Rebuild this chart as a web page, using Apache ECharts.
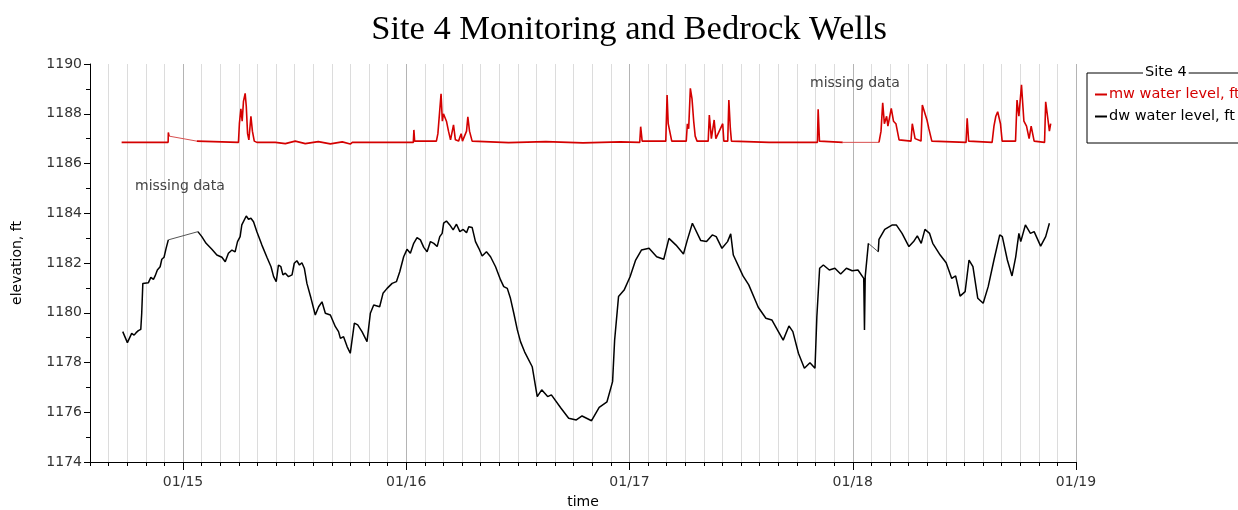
<!DOCTYPE html>
<html><head><meta charset="utf-8">
<script src="https://cdn.jsdelivr.net/npm/echarts@6/dist/echarts.min.js"></script>
<style>html,body{margin:0;padding:0;background:#fff}#c{width:1238px;height:510px}</style>
</head><body><div id="c"></div>
<script>
// x values are months counted from January 2014 (12 = 01/15, 24 = 01/16, ...)
const xTickMonths = [12, 24, 36, 48, 60];
const xTickLabels = ['01/15', '01/16', '01/17', '01/18', '01/19'];
const yTickValues = [1174, 1176, 1178, 1180, 1182, 1184, 1186, 1188, 1190];

const dwMonths = [8.76,9.01,9.24,9.37,9.48,9.60,9.73,9.78,9.84,10.14,
10.27,10.41,10.50,10.62,10.77,10.86,10.98,11.09,11.21,12.80,
13.01,13.24,13.55,13.82,14.09,14.27,14.44,14.63,14.80,14.93,
15.07,15.16,15.40,15.52,15.65,15.79,15.97,16.24,16.51,16.73,
16.87,17.01,17.13,17.26,17.37,17.50,17.67,17.86,17.98,18.12,
18.26,18.39,18.52,18.66,18.88,19.11,19.29,19.47,19.65,19.92,
20.19,20.36,20.46,20.63,20.82,20.99,21.21,21.39,21.62,21.89,
22.07,22.25,22.57,22.75,22.97,23.24,23.47,23.65,23.86,24.04,
24.22,24.40,24.58,24.76,24.94,25.12,25.30,25.48,25.66,25.80,
25.93,26.01,26.16,26.34,26.52,26.70,26.88,27.06,27.24,27.36,
27.54,27.72,27.90,28.08,28.31,28.53,28.80,29.07,29.24,29.43,
29.60,29.78,29.97,30.14,
30.36,30.77,31.04,31.28,31.60,31.80,32.32,32.73,33.14,33.45,
33.96,34.37,34.79,35.09,35.20,35.41,35.71,36.03,36.33,36.64,
37.05,37.46,37.84,38.12,38.50,38.90,39.11,39.38,39.83,40.14,
40.45,40.66,40.97,41.27,41.44,41.58,42.10,42.41,42.92,43.33,
43.65,43.95,44.26,44.57,44.78,45.08,45.40,45.70,45.97,46.07,
46.22,46.42,46.74,47.04,47.35,47.66,47.97,48.28,48.59,48.63,
48.67,48.84,49.37,49.41,49.72,50.13,50.34,50.65,51.02,51.27,
51.47,51.68,51.88,52.13,52.30,52.70,53.02,53.32,53.53,53.77,
54.04,54.25,54.46,54.72,55.01,55.28,55.59,55.90,56.04,56.31,
56.56,56.76,56.93,57.03,57.28,57.55,57.75,58.10,58.37,58.57];
const dwLevel = [1179.24,1178.80,1179.17,1179.10,1179.20,1179.28,1179.33,1179.98,1181.18,1181.21,
1181.42,1181.34,1181.48,1181.72,1181.85,1182.15,1182.23,1182.59,1182.93,1183.26,
1183.06,1182.79,1182.55,1182.32,1182.23,1182.05,1182.39,1182.52,1182.45,1182.86,
1183.06,1183.53,1183.89,1183.76,1183.80,1183.66,1183.26,1182.72,1182.23,1181.85,
1181.45,1181.25,1181.92,1181.85,1181.52,1181.59,1181.45,1181.52,1181.99,1182.09,
1181.92,1182.01,1181.79,1181.18,1180.58,1179.91,1180.24,1180.44,1179.98,1179.91,
1179.44,1179.24,1178.97,1179.04,1178.64,1178.37,1179.58,1179.51,1179.24,1178.84,
1179.98,1180.31,1180.24,1180.78,1180.98,1181.18,1181.25,1181.65,1182.25,1182.55,
1182.39,1182.79,1183.02,1182.93,1182.63,1182.45,1182.86,1182.79,1182.66,1183.06,
1183.19,1183.60,1183.69,1183.53,1183.33,1183.56,1183.26,1183.35,1183.22,1183.46,
1183.43,1182.86,1182.59,1182.28,1182.45,1182.25,1181.85,1181.32,1181.05,1180.98,
1180.58,1179.98,1179.31,1178.84,
1178.43,1177.83,1176.63,1176.90,1176.63,1176.70,1176.16,1175.76,1175.69,1175.85,
1175.66,1176.20,1176.42,1177.23,1178.90,1180.65,1180.91,1181.45,1182.12,1182.52,
1182.59,1182.25,1182.15,1182.99,1182.72,1182.36,1182.93,1183.60,1182.90,1182.86,
1183.13,1183.06,1182.59,1182.86,1183.17,1182.32,1181.48,1181.12,1180.22,1179.78,
1179.71,1179.31,1178.90,1179.47,1179.24,1178.37,1177.77,1177.99,1177.77,1179.84,
1181.79,1181.92,1181.72,1181.79,1181.56,1181.79,1181.69,1181.72,1181.38,1179.31,
1181.45,1182.79,1182.45,1182.95,1183.35,1183.53,1183.53,1183.19,1182.66,1182.86,
1183.09,1182.79,1183.35,1183.19,1182.79,1182.32,1182.01,1181.38,1181.48,1180.67,
1180.85,1182.12,1181.85,1180.58,1180.38,1181.05,1182.12,1183.13,1183.06,1182.12,
1181.48,1182.25,1183.19,1182.86,1183.53,1183.19,1183.26,1182.68,1183.06,1183.60];

const mwMonths = [8.70,11.20,11.21,11.25,12.74,14.98,15.03,15.11,15.18,15.25,
15.34,15.40,15.47,15.54,15.65,15.73,15.83,15.97,16.96,17.50,
18.03,18.57,19.27,19.92,20.56,20.99,21.10,24.38,24.41,24.45,
25.62,25.70,25.87,25.94,26.00,26.16,26.27,26.38,26.54,26.64,
26.81,26.95,27.02,27.24,27.31,27.40,27.54,29.50,31.50,33.50,
35.50,36.55,36.60,36.68,37.95,38.02,38.08,38.27,39.05,39.11,
39.18,39.27,39.36,39.45,39.53,39.63,40.23,40.29,40.40,40.55,
40.64,41.01,41.07,41.28,41.34,41.42,41.48,43.50,46.10,46.14,
46.21,47.46,49.41,49.52,49.61,49.70,49.82,49.89,50.07,50.19,
50.32,50.49,51.13,51.20,51.35,51.67,51.74,51.99,52.09,52.25,
54.09,54.15,54.23,55.49,55.59,55.69,55.79,55.94,56.03,56.75,
56.83,56.93,57.07,57.20,57.34,57.48,57.59,57.75,58.31,58.37,
58.47,58.57,58.64];
const mwLevel = [1186.85,1186.85,1187.25,1187.10,1186.90,1186.85,1187.60,1188.20,1187.70,1188.50,
1188.82,1188.30,1187.20,1186.95,1187.90,1187.30,1186.90,1186.85,1186.85,1186.80,
1186.90,1186.80,1186.88,1186.79,1186.87,1186.78,1186.85,1186.85,1187.35,1186.90,
1186.90,1187.20,1188.80,1187.70,1188.00,1187.70,1187.30,1186.95,1187.55,1186.95,
1186.90,1187.20,1186.90,1187.30,1187.88,1187.30,1186.90,1186.84,1186.88,1186.83,
1186.87,1186.85,1187.48,1186.90,1186.90,1188.75,1187.60,1186.90,1186.90,1187.60,
1187.40,1189.02,1188.60,1187.70,1187.10,1186.90,1186.90,1187.95,1187.00,1187.75,
1187.00,1187.60,1186.90,1186.90,1188.55,1187.40,1186.90,1186.85,1186.85,1188.18,
1186.90,1186.85,1186.85,1187.30,1188.44,1187.60,1187.90,1187.50,1188.22,1187.70,
1187.60,1186.95,1186.90,1187.60,1187.00,1186.90,1188.35,1187.75,1187.40,1186.90,
1186.85,1187.82,1186.90,1186.85,1187.50,1187.90,1188.08,1187.60,1186.90,1186.90,
1188.55,1187.90,1189.16,1187.70,1187.50,1187.00,1187.50,1186.90,1186.85,1188.48,
1187.90,1187.30,1187.60];

// stretches with no readings (drawn as thin joining lines): [from month, to month]
const dwGaps = [[11.21, 12.80], [48.84, 49.37]];
const mwGaps = [[11.25, 12.74], [47.46, 49.41]];

const missingNotes = ['missing data', 'missing data'];

const xMin = 7, xMax = 60, yMin = 1174, yMax = 1190;
const sans = 'DejaVu Sans, Verdana, sans-serif';

// monthly split lines; January lines darker (split lines start at Sep 2014)
const monthColors = [];
for (let i = 0; i < 12; i++) monthColors.push(i === 4 ? '#b4b4b4' : '#dcdcdc');

function solidData(months, levels, gaps) {
  const out = [];
  months.forEach((m, i) => {
    out.push([m, levels[i]]);
    if (gaps.some(g => g[0] === m)) out.push([m, null]);
  });
  return out;
}
function gapData(months, levels, gaps) {
  const out = [];
  gaps.forEach(g => {
    const a = months.indexOf(g[0]), b = months.indexOf(g[1]);
    out.push([g[0], levels[a]], [g[1], levels[b]], [g[1], null]);
  });
  return out;
}

const chart = echarts.init(document.getElementById('c'), null, {renderer: 'canvas'});
chart.setOption({
  animation: false,
  backgroundColor: '#fff',
  title: {
    text: 'Site 4 Monitoring and Bedrock Wells',
    left: 624, top: 7, textAlign: 'center',
    textStyle: {fontFamily: 'Liberation Serif, serif', fontSize: 34.5, fontWeight: 'normal', color: '#000'}
  },
  legend: {
    orient: 'vertical', left: 1087, top: 73,
    padding: [14, 60, 19, 8], itemGap: 7, itemWidth: 12, itemHeight: 2, icon: 'rect',
    borderColor: '#000', borderWidth: 1, backgroundColor: '#fff',
    textStyle: {fontFamily: sans, fontSize: 14.5, color: '#000', padding: [0, 0, 0, -3]},
    data: [{name: 'mw water level, ft', textStyle: {color: '#d40000'}}, {name: 'dw water level, ft'}]
  },
  graphic: [
    {type: 'text', left: 1143, top: 65, z: 100,
     style: {text: 'Site 4', font: '14.5px ' + sans, fill: '#000', backgroundColor: '#fff', padding: [0, 2]}},
    {type: 'text', left: 135, top: 179, z: 100,
     style: {text: missingNotes[0], font: '14px ' + sans, fill: '#444'}},
    {type: 'text', left: 810, top: 76, z: 100,
     style: {text: missingNotes[1], font: '14px ' + sans, fill: '#444'}}
  ],
  grid: {left: 90, right: 162, top: 64, bottom: 48, containLabel: false, outerBoundsMode: 'none'},
  xAxis: [{
    type: 'value', min: xMin, max: xMax, interval: 1,
    name: 'time', nameLocation: 'middle', nameGap: 33,
    nameTextStyle: {fontFamily: sans, fontSize: 14, color: '#000'},
    axisLine: {show: true, lineStyle: {color: '#000', width: 1}},
    axisTick: {show: true, length: 4, lineStyle: {color: '#000'}},
    axisLabel: {
      fontFamily: sans, fontSize: 14, color: '#333', margin: 13, showMinLabel: true, showMaxLabel: true,
      formatter: v => { const k = xTickMonths.indexOf(Math.round(v)); return k >= 0 ? xTickLabels[k] : ''; }
    },
    splitLine: {show: true, showMinLine: false, lineStyle: {color: monthColors, width: 1}}
  }, {
    type: 'value', gridIndex: 0, position: 'bottom', min: xMin, max: xMax, interval: 1,
    axisLine: {show: false},
    axisTick: {show: true, length: 8, customValues: xTickMonths, lineStyle: {color: '#000'}},
    axisLabel: {show: false},
    splitLine: {show: false}
  }],
  yAxis: {
    type: 'value', min: yMin, max: yMax, interval: 2,
    name: 'elevation, ft', nameLocation: 'middle', nameGap: 66, nameRotate: 90,
    nameTextStyle: {fontFamily: sans, fontSize: 14, color: '#000'},
    axisLine: {show: true, lineStyle: {color: '#000', width: 1}},
    axisTick: {show: true, length: 6, lineStyle: {color: '#000'}},
    minorTick: {show: true, splitNumber: 2, length: 4, lineStyle: {color: '#000'}},
    axisLabel: {fontFamily: sans, fontSize: 14, color: '#333', margin: 8,
      formatter: v => yTickValues.indexOf(v) >= 0 ? String(v) : ''},
    splitLine: {show: false}
  },
  series: [
    {
      name: 'mw water level, ft', type: 'line', showSymbol: false, symbol: 'none', connectNulls: false,
      lineStyle: {color: '#d40000', width: 1.6}, itemStyle: {color: '#d40000'},
      data: solidData(mwMonths, mwLevel, mwGaps), z: 3
    },
    {
      name: 'dw water level, ft', type: 'line', showSymbol: false, symbol: 'none', connectNulls: false,
      lineStyle: {color: '#000', width: 1.5}, itemStyle: {color: '#000'},
      data: solidData(dwMonths, dwLevel, dwGaps), z: 3
    },
    {
      name: 'mw gap', type: 'line', showSymbol: false, symbol: 'none', connectNulls: false, silent: true,
      lineStyle: {color: '#d85050', width: 1}, data: gapData(mwMonths, mwLevel, mwGaps), z: 2
    },
    {
      name: 'dw gap', type: 'line', showSymbol: false, symbol: 'none', connectNulls: false, silent: true,
      lineStyle: {color: '#555', width: 1}, data: gapData(dwMonths, dwLevel, dwGaps), z: 2
    }
  ]
});
</script>
</body></html>
